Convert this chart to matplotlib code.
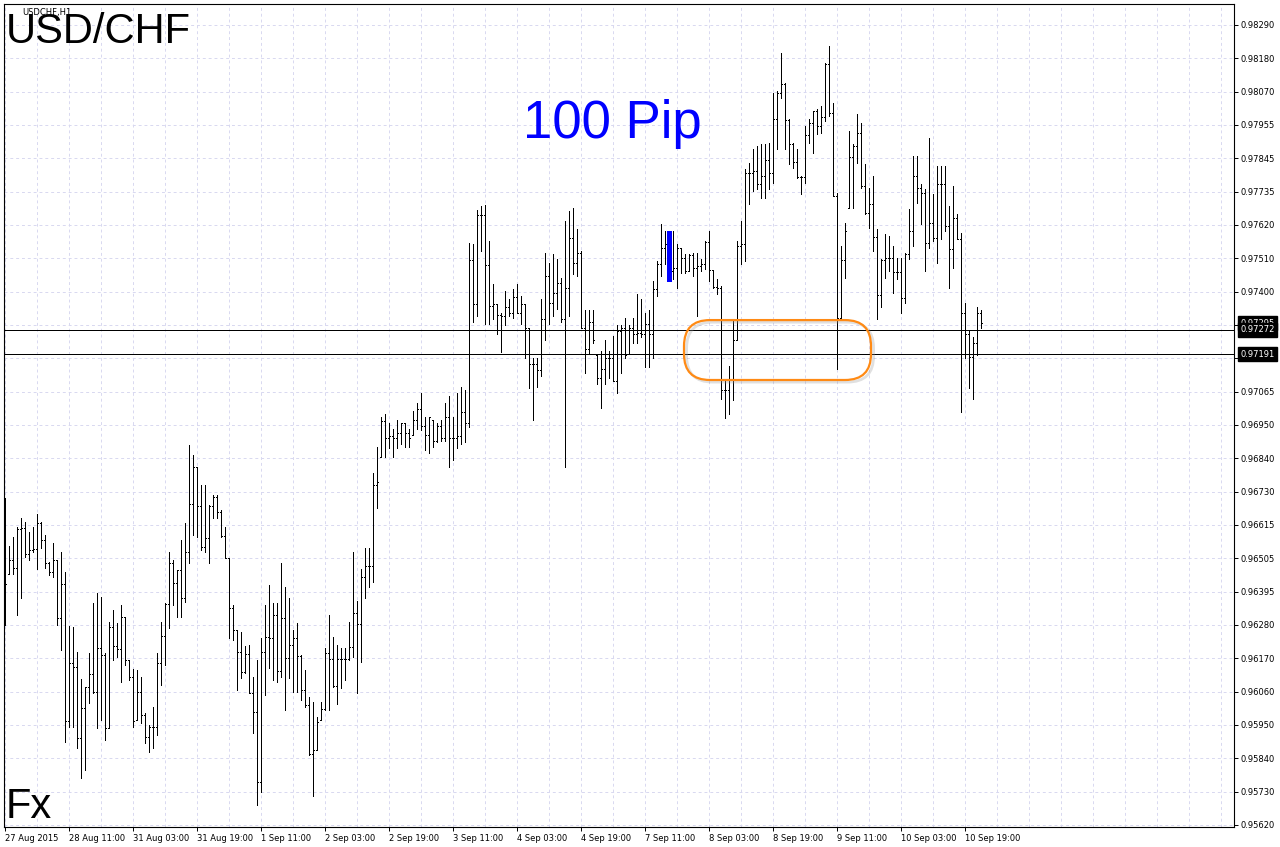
import numpy as np
import matplotlib
matplotlib.use('Agg')
import matplotlib.pyplot as plt
from matplotlib.patches import FancyBboxPatch
from matplotlib.transforms import blended_transform_factory

# --- DATA (USDCHF H1) ---
opens = [
    0.96500, 0.96423, 0.96503, 0.96477, 0.96607, 0.96610, 0.96523, 0.96537, 0.96540, 0.96627,
    0.96570, 0.96493, 0.96463, 0.96503, 0.96310, 0.96423, 0.95967, 0.96160, 0.96147, 0.95910,
    0.96010, 0.96080, 0.96123, 0.96063, 0.96210, 0.96187, 0.95943, 0.96280, 0.96217, 0.96207,
    0.96313, 0.96170, 0.96113, 0.95967, 0.96063, 0.95987, 0.95913, 0.95947, 0.95947, 0.96160,
    0.96250, 0.96357, 0.96493, 0.96427, 0.96470, 0.96377, 0.96530, 0.96690, 0.96813, 0.96683,
    0.96547, 0.96577, 0.96683, 0.96713, 0.96663, 0.96583, 0.96510, 0.96343, 0.96270, 0.96197,
    0.96130, 0.96190, 0.96060, 0.95997, 0.95763, 0.96197, 0.96247, 0.96243, 0.96320, 0.96133,
    0.96310, 0.96177, 0.96220, 0.96243, 0.96183, 0.96070, 0.96020, 0.95857, 0.95870, 0.95963,
    0.96007, 0.96193, 0.96173, 0.96083, 0.96173, 0.96173, 0.96173, 0.96213, 0.96327, 0.96290,
    0.96447, 0.96483, 0.96483, 0.96753, 0.96763, 0.96967, 0.96913, 0.96917, 0.96913, 0.96927,
    0.96960, 0.96927, 0.96913, 0.96973, 0.97007, 0.96953, 0.96920, 0.96980, 0.96903, 0.96953,
    0.96910, 0.96980, 0.96910, 0.96913, 0.96917, 0.96997, 0.96960, 0.97507, 0.97360, 0.97657,
    0.97657, 0.97490, 0.97353, 0.97357, 0.97323, 0.97317, 0.97347, 0.97330, 0.97383, 0.97330,
    0.97360, 0.97280, 0.97160, 0.97160, 0.97137, 0.97310, 0.97453, 0.97363, 0.97397, 0.97430,
    0.97310, 0.97413, 0.97580, 0.97497, 0.97530, 0.97280, 0.97210, 0.97297, 0.97237, 0.97113,
    0.97143, 0.97177, 0.97177, 0.97103, 0.97270, 0.97277, 0.97187, 0.97277, 0.97260, 0.97263,
    0.97260, 0.97293, 0.97260, 0.97410, 0.97493, 0.97547, 0.97560, 0.97470, 0.97480, 0.97547,
    0.97513, 0.97470, 0.97523, 0.97480, 0.97487, 0.97493, 0.97567, 0.97473, 0.97417, 0.97413,
    0.97070, 0.97070, 0.97107, 0.97237, 0.97553, 0.97560, 0.97797, 0.97797, 0.97803, 0.97760,
    0.97787, 0.97840, 0.97797, 0.97977, 0.98063, 0.98093, 0.97973, 0.97893, 0.97833, 0.97783,
    0.97783, 0.97923, 0.97963, 0.98003, 0.97953, 0.97983, 0.98160, 0.97997, 0.97720, 0.97313,
    0.97507, 0.97603, 0.97850, 0.97887, 0.97930, 0.97753, 0.97663, 0.97693, 0.97583, 0.97390,
    0.97507, 0.97513, 0.97513, 0.97467, 0.97467, 0.97380, 0.97527, 0.97603, 0.97787, 0.97747,
    0.97730, 0.97563, 0.97630, 0.97580, 0.97760, 0.97760, 0.97620, 0.97543, 0.97647, 0.97577,
    0.97327, 0.97257, 0.97183, 0.97227, 0.97327,
]
highs = [
    0.96710, 0.96550, 0.96580, 0.96613, 0.96643, 0.96630, 0.96597, 0.96613, 0.96657, 0.96630,
    0.96587, 0.96497, 0.96560, 0.96503, 0.96530, 0.96463, 0.96283, 0.96280, 0.96197, 0.96107,
    0.96080, 0.96193, 0.96360, 0.96393, 0.96380, 0.96193, 0.96297, 0.96337, 0.96293, 0.96353,
    0.96313, 0.96170, 0.96140, 0.96137, 0.96113, 0.95993, 0.95953, 0.96013, 0.96193, 0.96297,
    0.96360, 0.96530, 0.96503, 0.96470, 0.96570, 0.96627, 0.96887, 0.96853, 0.96813, 0.96753,
    0.96753, 0.96687, 0.96720, 0.96720, 0.96670, 0.96613, 0.96510, 0.96353, 0.96270, 0.96263,
    0.96217, 0.96220, 0.96113, 0.96170, 0.96243, 0.96353, 0.96420, 0.96360, 0.96360, 0.96493,
    0.96413, 0.96377, 0.96270, 0.96293, 0.96187, 0.96137, 0.96047, 0.96030, 0.95980, 0.96030,
    0.96210, 0.96320, 0.96247, 0.96220, 0.96210, 0.96210, 0.96297, 0.96530, 0.96367, 0.96473,
    0.96543, 0.96543, 0.96793, 0.96880, 0.96980, 0.96990, 0.96963, 0.96943, 0.96970, 0.96960,
    0.96963, 0.96940, 0.97003, 0.97027, 0.97060, 0.96983, 0.96980, 0.96970, 0.96960, 0.96970,
    0.97027, 0.97053, 0.96980, 0.97060, 0.97080, 0.97070, 0.97563, 0.97560, 0.97673, 0.97687,
    0.97690, 0.97570, 0.97427, 0.97360, 0.97327, 0.97403, 0.97377, 0.97410, 0.97427, 0.97387,
    0.97360, 0.97280, 0.97177, 0.97177, 0.97377, 0.97530, 0.97497, 0.97527, 0.97510, 0.97447,
    0.97637, 0.97670, 0.97680, 0.97610, 0.97537, 0.97337, 0.97337, 0.97337, 0.97187, 0.97203,
    0.97237, 0.97203, 0.97253, 0.97287, 0.97287, 0.97313, 0.97287, 0.97313, 0.97393, 0.97377,
    0.97330, 0.97337, 0.97437, 0.97503, 0.97627, 0.97603, 0.97603, 0.97603, 0.97560, 0.97547,
    0.97527, 0.97527, 0.97530, 0.97530, 0.97510, 0.97570, 0.97603, 0.97473, 0.97443, 0.97420,
    0.97103, 0.97153, 0.97303, 0.97570, 0.97637, 0.97810, 0.97830, 0.97877, 0.97887, 0.97893,
    0.97893, 0.97897, 0.98063, 0.98070, 0.98197, 0.98097, 0.97977, 0.97897, 0.97877, 0.97787,
    0.97953, 0.97977, 0.98003, 0.98010, 0.98020, 0.98163, 0.98220, 0.98030, 0.97730, 0.97553,
    0.97630, 0.97937, 0.97893, 0.97993, 0.97963, 0.97827, 0.97747, 0.97787, 0.97610, 0.97510,
    0.97593, 0.97587, 0.97553, 0.97513, 0.97513, 0.97530, 0.97677, 0.97853, 0.97853, 0.97760,
    0.97743, 0.97913, 0.97727, 0.97820, 0.97820, 0.97820, 0.97687, 0.97753, 0.97660, 0.97597,
    0.97363, 0.97270, 0.97247, 0.97347, 0.97337,
]
lows = [
    0.96287, 0.96457, 0.96457, 0.96320, 0.96377, 0.96513, 0.96503, 0.96530, 0.96473, 0.96543,
    0.96477, 0.96453, 0.96447, 0.96287, 0.96203, 0.95897, 0.95947, 0.95947, 0.95877, 0.95777,
    0.95803, 0.96027, 0.96060, 0.95943, 0.95970, 0.95903, 0.95943, 0.96170, 0.96180, 0.96097,
    0.96153, 0.96103, 0.95947, 0.95970, 0.95960, 0.95893, 0.95863, 0.95877, 0.95920, 0.96087,
    0.96153, 0.96277, 0.96353, 0.96313, 0.96313, 0.96363, 0.96493, 0.96587, 0.96580, 0.96537,
    0.96530, 0.96493, 0.96643, 0.96643, 0.96580, 0.96510, 0.96243, 0.96237, 0.96070, 0.96110,
    0.96127, 0.96060, 0.95927, 0.95687, 0.95730, 0.96053, 0.96143, 0.96103, 0.96097, 0.96113,
    0.96003, 0.96110, 0.96063, 0.96063, 0.96037, 0.96013, 0.95853, 0.95717, 0.95870, 0.95970,
    0.96003, 0.96003, 0.96080, 0.96023, 0.96077, 0.96103, 0.96170, 0.96180, 0.96060, 0.96163,
    0.96377, 0.96413, 0.96430, 0.96677, 0.96847, 0.96847, 0.96877, 0.96847, 0.96877, 0.96893,
    0.96880, 0.96880, 0.96920, 0.96943, 0.96937, 0.96870, 0.96863, 0.96880, 0.96897, 0.96903,
    0.96903, 0.96813, 0.96837, 0.96877, 0.96893, 0.96897, 0.96947, 0.97297, 0.97320, 0.97537,
    0.97293, 0.97293, 0.97310, 0.97260, 0.97197, 0.97287, 0.97320, 0.97313, 0.97327, 0.97293,
    0.97180, 0.97077, 0.96970, 0.97080, 0.97120, 0.97237, 0.97293, 0.97320, 0.97343, 0.97297,
    0.96813, 0.97320, 0.97460, 0.97453, 0.97280, 0.97130, 0.97193, 0.97227, 0.97093, 0.97013,
    0.97093, 0.97113, 0.97103, 0.97060, 0.97127, 0.97177, 0.97193, 0.97227, 0.97227, 0.97247,
    0.97147, 0.97147, 0.97177, 0.97387, 0.97453, 0.97493, 0.97437, 0.97443, 0.97413, 0.97463,
    0.97463, 0.97470, 0.97453, 0.97320, 0.97470, 0.97477, 0.97437, 0.97413, 0.97393, 0.97043,
    0.96977, 0.96993, 0.97037, 0.97237, 0.97493, 0.97503, 0.97693, 0.97737, 0.97743, 0.97713,
    0.97713, 0.97743, 0.97763, 0.97877, 0.98047, 0.97877, 0.97827, 0.97813, 0.97780, 0.97727,
    0.97763, 0.97897, 0.97863, 0.97927, 0.97930, 0.97970, 0.97987, 0.97720, 0.97143, 0.97313,
    0.97447, 0.97680, 0.97680, 0.97830, 0.97747, 0.97660, 0.97613, 0.97537, 0.97310, 0.97350,
    0.97447, 0.97470, 0.97397, 0.97443, 0.97330, 0.97363, 0.97510, 0.97553, 0.97697, 0.97627,
    0.97470, 0.97547, 0.97570, 0.97497, 0.97577, 0.97603, 0.97413, 0.97480, 0.97577, 0.96997,
    0.97177, 0.97077, 0.97043, 0.97187, 0.97277,
]
closes = [
    0.96423, 0.96503, 0.96477, 0.96607, 0.96610, 0.96523, 0.96537, 0.96540, 0.96627, 0.96570,
    0.96493, 0.96463, 0.96503, 0.96310, 0.96423, 0.95967, 0.96160, 0.96147, 0.95910, 0.96010,
    0.96080, 0.96123, 0.96063, 0.96210, 0.96187, 0.95943, 0.96280, 0.96217, 0.96207, 0.96313,
    0.96170, 0.96113, 0.95967, 0.96063, 0.95987, 0.95913, 0.95947, 0.95947, 0.96160, 0.96250,
    0.96357, 0.96493, 0.96427, 0.96470, 0.96377, 0.96530, 0.96690, 0.96813, 0.96683, 0.96547,
    0.96577, 0.96683, 0.96713, 0.96663, 0.96583, 0.96510, 0.96343, 0.96270, 0.96197, 0.96130,
    0.96190, 0.96060, 0.95997, 0.95763, 0.96197, 0.96247, 0.96243, 0.96320, 0.96133, 0.96310,
    0.96177, 0.96220, 0.96243, 0.96183, 0.96070, 0.96020, 0.95857, 0.95870, 0.95963, 0.96007,
    0.96193, 0.96173, 0.96083, 0.96173, 0.96173, 0.96173, 0.96213, 0.96327, 0.96290, 0.96447,
    0.96483, 0.96483, 0.96753, 0.96763, 0.96967, 0.96913, 0.96917, 0.96913, 0.96927, 0.96960,
    0.96927, 0.96913, 0.96973, 0.97007, 0.96953, 0.96920, 0.96980, 0.96903, 0.96953, 0.96910,
    0.96980, 0.96910, 0.96913, 0.96917, 0.96997, 0.96960, 0.97507, 0.97360, 0.97657, 0.97657,
    0.97490, 0.97353, 0.97357, 0.97323, 0.97317, 0.97347, 0.97330, 0.97383, 0.97330, 0.97360,
    0.97280, 0.97160, 0.97160, 0.97137, 0.97310, 0.97453, 0.97363, 0.97397, 0.97430, 0.97310,
    0.97413, 0.97580, 0.97497, 0.97530, 0.97280, 0.97210, 0.97297, 0.97237, 0.97113, 0.97143,
    0.97177, 0.97177, 0.97103, 0.97270, 0.97277, 0.97187, 0.97277, 0.97260, 0.97263, 0.97260,
    0.97293, 0.97260, 0.97410, 0.97493, 0.97547, 0.97560, 0.97470, 0.97480, 0.97547, 0.97513,
    0.97470, 0.97523, 0.97480, 0.97487, 0.97493, 0.97567, 0.97473, 0.97417, 0.97413, 0.97070,
    0.97070, 0.97107, 0.97237, 0.97553, 0.97560, 0.97797, 0.97797, 0.97803, 0.97760, 0.97787,
    0.97840, 0.97797, 0.97977, 0.98063, 0.98093, 0.97973, 0.97893, 0.97833, 0.97783, 0.97783,
    0.97923, 0.97963, 0.98003, 0.97953, 0.97983, 0.98160, 0.97997, 0.97720, 0.97313, 0.97507,
    0.97603, 0.97850, 0.97887, 0.97930, 0.97753, 0.97663, 0.97693, 0.97583, 0.97390, 0.97507,
    0.97513, 0.97513, 0.97467, 0.97467, 0.97380, 0.97527, 0.97603, 0.97787, 0.97747, 0.97730,
    0.97563, 0.97630, 0.97580, 0.97760, 0.97760, 0.97620, 0.97543, 0.97647, 0.97577, 0.97327,
    0.97257, 0.97183, 0.97227, 0.97327, 0.97295,
]

time_labels = ['27 Aug 2015', '28 Aug 11:00', '31 Aug 03:00', '31 Aug 19:00',
               '1 Sep 11:00', '2 Sep 03:00', '2 Sep 19:00', '3 Sep 11:00',
               '4 Sep 03:00', '4 Sep 19:00', '7 Sep 11:00', '8 Sep 03:00',
               '8 Sep 19:00', '9 Sep 11:00', '10 Sep 03:00', '10 Sep 19:00']
price_labels = ['0.95620', '0.95730', '0.95840', '0.95950', '0.96060', '0.96170',
                '0.96280', '0.96395', '0.96505', '0.96615', '0.96730', '0.96840',
                '0.96950', '0.97065', '0.97180', '0.97290', '0.97400', '0.97510',
                '0.97620', '0.97735', '0.97845', '0.97955', '0.98070', '0.98180',
                '0.98290']
levels = [0.97272, 0.97191]
bid = 0.97295
highlight_bar = 166

# --- FIGURE SETUP ---
W, H = 1280, 847
fig = plt.figure(figsize=(W / 100, H / 100), dpi=100, facecolor='white')
ax = fig.add_axes([4 / W, 1 - 827 / H, 1230 / W, 823 / H])

idx = np.arange(len(closes))
o = np.clip(opens, lows, highs)

ax.set_xlim(-0.25, 307.25)
ax.set_ylim(0.95613, 0.98360)

# grid (MT4 style dashed lavender)
ax.set_axisbelow(True)
ax.set_xticks(np.arange(0, 241, 16))
ax.set_xticklabels(time_labels, ha='left')
ax.set_xticks(np.arange(0, 305, 8), minor=True)
ax.set_yticks(np.linspace(0.95620, 0.98290, 25))
ax.set_yticklabels(price_labels)
ax.yaxis.tick_right()
ax.grid(which='both', axis='x', color='#d8d8f0', lw=0.7, linestyle=(0, (3, 3)))
ax.grid(which='major', axis='y', color='#d8d8f0', lw=0.7, linestyle=(0, (3, 3)))
ax.tick_params(axis='both', which='major', direction='out', length=3, width=0.7,
               labelsize=6, pad=2, colors='black')
ax.tick_params(axis='x', which='minor', length=0)
for s in ax.spines.values():
    s.set_color('black')
    s.set_linewidth(0.8)

# --- OHLC BARS (1 px lines, crisp like the terminal) ---
px = 0.72
ax.vlines(idx, lows, highs, colors='black', lw=px, antialiased=False,
          capstyle='butt', zorder=3)
ax.hlines(o, idx - 0.25, idx, colors='black', lw=px, antialiased=False,
          capstyle='butt', zorder=3)
ax.hlines(closes, idx, idx + 0.25, colors='black', lw=px, antialiased=False,
          capstyle='butt', zorder=3)
ax.vlines(highlight_bar, lows[highlight_bar], highs[highlight_bar],
          colors='#0000ff', lw=2.2, antialiased=False, capstyle='butt', zorder=4)

# horizontal levels
for lv in levels:
    ax.axhline(lv, color='black', lw=px, zorder=3)

# price labels on the right axis
tr = blended_transform_factory(ax.transAxes, ax.transData)
for p in [bid] + levels:
    ax.text(1.0049, p, f'{p:.5f}', transform=tr, ha='left', va='center',
            fontsize=6, color='white', clip_on=False, zorder=6,
            bbox=dict(boxstyle='square,pad=0.3', fc='black', ec='black'))

# orange rounded box
asp = 0.000033375 / 0.25
shadow = FancyBboxPatch((170.4, 0.97098), 46.75, 0.00200,
                        boxstyle='round,pad=0,rounding_size=6.5', mutation_aspect=asp,
                        fc='none', ec='#999999', lw=2.0, alpha=0.3, zorder=4)
ax.add_patch(shadow)
box = FancyBboxPatch((169.75, 0.97105), 46.75, 0.00200,
                     boxstyle='round,pad=0,rounding_size=6.5', mutation_aspect=asp,
                     fc='none', ec='#ff8a14', lw=1.6, zorder=5)
ax.add_patch(box)

# --- TEXT ---
fig.text(22 / W, 1 - 15 / H, 'USDCHF,H1', fontsize=6, va='baseline', color='black')
fig.text(6 / W, 1 - 43 / H, 'USD/CHF', fontsize=30, family='Liberation Sans',
         va='baseline', color='black')
fig.text(6 / W, 1 - 818 / H, 'Fx', fontsize=30, family='Liberation Sans',
         va='baseline', color='black')
fig.text(523 / W, 1 - 138 / H, '100 Pip', fontsize=38, family='Liberation Sans',
         va='baseline', color='#0000ff')

fig.savefig('out.png', dpi=100, facecolor='white')
